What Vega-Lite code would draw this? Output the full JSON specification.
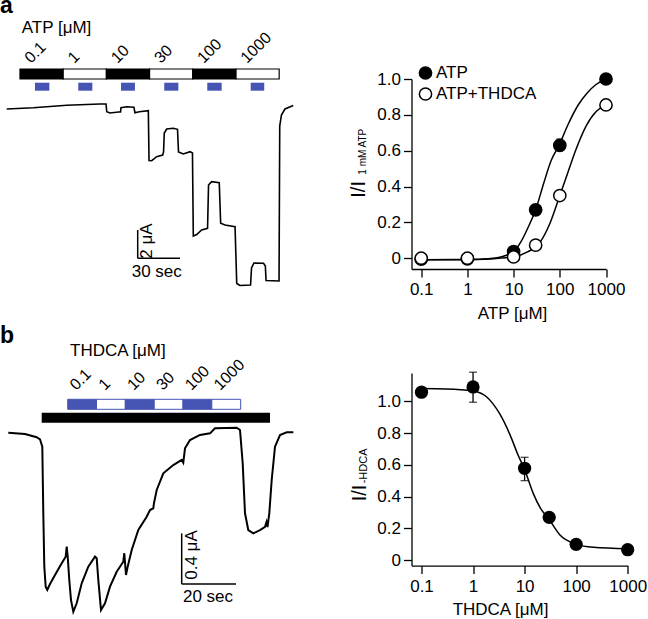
{
  "$schema": "https://vega.github.io/schema/vega-lite/v6.json",
  "padding": {"left": 0, "top": -5, "right": 0, "bottom": 0},
  "bounds": "flush",
  "spacing": 111.5,
  "resolve": {"scale": {"fill": "independent"}, "legend": {"fill": "independent"}},
  "config": {
    "view": {"stroke": null},
    "font": "Liberation Sans",
    "axis": {"grid": false, "domainColor": "black", "tickColor": "black", "labelColor": "black", "titleColor": "black", "labelFont": "Liberation Sans", "titleFont": "Liberation Sans", "labelFontSize": 17, "titleFontSize": 17, "titleFontWeight": "normal", "tickSize": 8, "domainWidth": 1.3, "tickWidth": 1.3, "labelFlush": false, "labelOverlap": false, "tickCount": 20},
    "text": {"font": "Liberation Sans", "color": "black"}
  },
  "hconcat": [
    {
      "width": 300,
      "height": 619,
      "resolve": {"scale": {"x": "independent", "y": "independent"}},
      "layer": [
        {
          "layer": [
            {
              "data": {"values": [{"t":4.75,"I":-0.353},{"t":23.6,"I":-0.261},{"t":47.3,"I":-0.092},{"t":70.9,"I":0},{"t":75.2,"I":0},{"t":75.7,"I":-0.544},{"t":78.0,"I":-0.636},{"t":83.9,"I":-0.565},{"t":85.5,"I":-0.565},{"t":85.8,"I":-0.261},{"t":89.9,"I":-0.191},{"t":95.0,"I":-0.233},{"t":95.7,"I":-0.615},{"t":98.8,"I":-0.544},{"t":105.2,"I":-0.473},{"t":105.7,"I":-3.993},{"t":107.6,"I":-4.007},{"t":111.1,"I":-3.724},{"t":115.4,"I":-3.604},{"t":116.0,"I":-3.392},{"t":116.5,"I":-2.049},{"t":118.2,"I":-1.767},{"t":122.9,"I":-1.717},{"t":125.9,"I":-1.788},{"t":126.6,"I":-3.392},{"t":130.0,"I":-3.534},{"t":134.8,"I":-3.371},{"t":136.5,"I":-3.463},{"t":137.1,"I":-9.329},{"t":139.5,"I":-9.223},{"t":143.0,"I":-8.905},{"t":147.2,"I":-8.784},{"t":147.9,"I":-5.724},{"t":150.1,"I":-5.491},{"t":155.5,"I":-5.562},{"t":156.5,"I":-8.431},{"t":159.6,"I":-8.551},{"t":166.7,"I":-8.671},{"t":167.9,"I":-12.686},{"t":170.2,"I":-12.827},{"t":177.7,"I":-12.792},{"t":178.4,"I":-11.59},{"t":180.1,"I":-11.237},{"t":186.9,"I":-11.258},{"t":188.2,"I":-11.449},{"t":188.7,"I":-12.473},{"t":197.9,"I":-12.509},{"t":198.4,"I":-1.555},{"t":199.6,"I":-0.777},{"t":202.1,"I":-0.353},{"t":208.0,"I":-0.106}]},
              "mark": {"type": "line", "color": "black", "strokeWidth": 1.6},
              "encoding": {
                "x": {"field": "t", "type": "quantitative", "scale": {"domain": [0, 212.77], "nice": false, "zero": false}, "axis": null},
                "y": {"field": "I", "type": "quantitative", "scale": {"domain": [-36.396, 7.35], "nice": false, "zero": false}, "axis": null}
              }
            },
            {
              "data": {"values": [{"conc":"0.1","start":14.18,"end":44.82,"pStart":24.8,"pEnd":35.0},{"conc":"1","start":44.82,"end":75.46,"pStart":55.5,"pEnd":65.5},{"conc":"10","start":75.46,"end":106.1,"pStart":85.8,"pEnd":95.7},{"conc":"30","start":106.1,"end":136.7,"pStart":116.5,"pEnd":126.5},{"conc":"100","start":136.7,"end":167.4,"pStart":147.0,"pEnd":157.2},{"conc":"1000","start":167.4,"end":198.0,"pStart":177.8,"pEnd":187.4}]},
              "layer": [
                {
                  "mark": {"type": "rect", "stroke": "black", "strokeWidth": 1.2},
                  "encoding": {
                    "x": {"field": "start", "type": "quantitative"},
                    "x2": {"field": "end"},
                    "y": {"datum": 2.473, "type": "quantitative"},
                    "y2": {"datum": 1.767},
                    "fill": {"condition": {"test": "indexof(['0.1','10','100'], datum.conc) >= 0", "value": "black"}, "value": "white"}
                  }
                },
                {
                  "mark": {"type": "rect", "color": "#4654b4"},
                  "encoding": {
                    "x": {"field": "pStart", "type": "quantitative"},
                    "x2": {"field": "pEnd"},
                    "y": {"datum": 1.505, "type": "quantitative"},
                    "y2": {"datum": 0.94}
                  }
                },
                {
                  "mark": {"type": "text", "angle": 315, "align": "left", "baseline": "alphabetic", "fontSize": 16, "dx": 7.8, "dy": 7.8},
                  "encoding": {
                    "x": {"field": "start", "type": "quantitative"},
                    "y": {"datum": 2.827, "type": "quantitative"},
                    "text": {"field": "conc"}
                  }
                }
              ]
            },
            {
              "data": {"values": [{}]},
              "layer": [
                {"mark": {"type": "text", "text": "a", "fontSize": 23, "fontWeight": "bold", "align": "left", "baseline": "alphabetic"},
                 "encoding": {"x": {"datum": 0, "type": "quantitative"}, "y": {"datum": 6.431, "type": "quantitative"}}},
                {"mark": {"type": "text", "text": "ATP [μM]", "fontSize": 17, "align": "left", "baseline": "alphabetic"},
                 "encoding": {"x": {"datum": 15.39, "type": "quantitative"}, "y": {"datum": 5.025, "type": "quantitative"}}},
                {"mark": {"type": "rule", "color": "black", "strokeWidth": 1.5},
                 "encoding": {"x": {"datum": 97.66, "type": "quantitative"}, "x2": {"datum": 127.66}, "y": {"datum": -10.905, "type": "quantitative"}}},
                {"mark": {"type": "rule", "color": "black", "strokeWidth": 1.5},
                 "encoding": {"x": {"datum": 97.66, "type": "quantitative"}, "y": {"datum": -8.905, "type": "quantitative"}, "y2": {"datum": -10.905}}},
                {"mark": {"type": "text", "text": "30 sec", "fontSize": 17, "align": "left", "baseline": "alphabetic"},
                 "encoding": {"x": {"datum": 93.4, "type": "quantitative"}, "y": {"datum": -12.226, "type": "quantitative"}}},
                {"mark": {"type": "text", "text": "2 μA", "fontSize": 17, "align": "center", "baseline": "alphabetic", "angle": 270},
                 "encoding": {"x": {"datum": 107.8, "type": "quantitative"}, "y": {"datum": -9.68, "type": "quantitative"}}}
              ]
            }
          ]
        },
        {
          "layer": [
            {
              "data": {"values": [{"t":3.06,"I":0},{"t":9.21,"I":-0.01},{"t":13.52,"I":-0.036},{"t":14.73,"I":-0.052},{"t":15.58,"I":-0.11},{"t":15.95,"I":-0.636},{"t":16.32,"I":-1.057},{"t":16.83,"I":-1.215},{"t":17.42,"I":-1.241},{"t":18.42,"I":-1.194},{"t":20.26,"I":-1.123},{"t":22.73,"I":-1.03},{"t":24.2,"I":-0.978},{"t":24.57,"I":-0.899},{"t":24.94,"I":-0.978},{"t":25.52,"I":-1.162},{"t":26.15,"I":-1.32},{"t":27.0,"I":-1.412},{"t":28.25,"I":-1.346},{"t":30.09,"I":-1.188},{"t":32.52,"I":-1.057},{"t":34.99,"I":-0.978},{"t":35.62,"I":-0.991},{"t":36.21,"I":-1.162},{"t":37.2,"I":-1.399},{"t":38.67,"I":-1.346},{"t":40.52,"I":-1.215},{"t":42.98,"I":-1.097},{"t":45.41,"I":-1.018},{"t":45.78,"I":-0.951},{"t":46.41,"I":-1.123},{"t":47.03,"I":-1.057},{"t":48.51,"I":-0.925},{"t":50.94,"I":-0.768},{"t":54.03,"I":-0.663},{"t":55.25,"I":-0.61},{"t":56.46,"I":-0.596},{"t":56.72,"I":-0.555},{"t":57.72,"I":-0.452},{"t":60.15,"I":-0.32},{"t":63.83,"I":-0.255},{"t":66.92,"I":-0.215},{"t":67.51,"I":-0.237},{"t":68.14,"I":-0.123},{"t":69.98,"I":-0.058},{"t":73.66,"I":-0.018},{"t":77.35,"I":-0.005},{"t":79.19,"I":0.035},{"t":87.18,"I":0.039},{"t":88.4,"I":0.021},{"t":89.39,"I":-0.241},{"t":90.24,"I":-0.636},{"t":91.45,"I":-0.768},{"t":93.3,"I":-0.794},{"t":95.76,"I":-0.768},{"t":97.61,"I":-0.742},{"t":98.16,"I":-0.705},{"t":98.53,"I":-0.744},{"t":99.19,"I":-0.636},{"t":100.07,"I":-0.373},{"t":101.29,"I":-0.11},{"t":103.13,"I":-0.018},{"t":105.6,"I":0.003},{"t":108.03,"I":0.003}]},
              "mark": {"type": "line", "color": "black", "strokeWidth": 2},
              "encoding": {
                "x": {"field": "t", "type": "quantitative", "scale": {"domain": [0, 110.497], "nice": false, "zero": false}, "axis": null},
                "y": {"field": "I", "type": "quantitative", "scale": {"domain": [-1.4698, 3.4138], "nice": false, "zero": false}, "axis": null}
              }
            },
            {
              "data": {"values": [{"conc":"0.1","start":24.94,"end":35.54},{"conc":"1","start":35.54,"end":46.15},{"conc":"10","start":46.15,"end":56.8},{"conc":"30","start":56.8,"end":67.4},{"conc":"100","start":67.4,"end":78.01},{"conc":"1000","start":78.01,"end":88.65}]},
              "layer": [
                {
                  "mark": {"type": "rect", "stroke": "#4654b4", "strokeWidth": 1},
                  "encoding": {
                    "x": {"field": "start", "type": "quantitative"},
                    "x2": {"field": "end"},
                    "y": {"datum": 0.2635, "type": "quantitative"},
                    "y2": {"datum": 0.1846},
                    "fill": {"condition": {"test": "indexof(['0.1','10','100'], datum.conc) >= 0", "value": "#4654b4"}, "value": "white"}
                  }
                },
                {
                  "mark": {"type": "text", "angle": 315, "align": "left", "baseline": "alphabetic", "fontSize": 16, "dx": 6, "dy": 6},
                  "encoding": {
                    "x": {"field": "start", "type": "quantitative"},
                    "y": {"datum": 0.329, "type": "quantitative"},
                    "text": {"field": "conc"}
                  }
                }
              ]
            },
            {
              "data": {"values": [{}]},
              "layer": [
                {"mark": {"type": "rect", "color": "black"},
                 "encoding": {"x": {"datum": 15.36, "type": "quantitative"}, "x2": {"datum": 99.45}, "y": {"datum": 0.158, "type": "quantitative"}, "y2": {"datum": 0.0789}}},
                {"mark": {"type": "text", "text": "b", "fontSize": 23, "fontWeight": "bold", "align": "left", "baseline": "alphabetic"},
                 "encoding": {"x": {"datum": 0, "type": "quantitative"}, "y": {"datum": 0.7077, "type": "quantitative"}}},
                {"mark": {"type": "text", "text": "THDCA [μM]", "fontSize": 17, "align": "left", "baseline": "alphabetic"},
                 "encoding": {"x": {"datum": 25.78, "type": "quantitative"}, "y": {"datum": 0.605, "type": "quantitative"}}},
                {"mark": {"type": "rule", "color": "black", "strokeWidth": 1.5},
                 "encoding": {"x": {"datum": 66.92, "type": "quantitative"}, "x2": {"datum": 86.92}, "y": {"datum": -1.194, "type": "quantitative"}}},
                {"mark": {"type": "rule", "color": "black", "strokeWidth": 1.5},
                 "encoding": {"x": {"datum": 66.92, "type": "quantitative"}, "y": {"datum": -0.794, "type": "quantitative"}, "y2": {"datum": -1.194}}},
                {"mark": {"type": "text", "text": "20 sec", "fontSize": 17, "align": "left", "baseline": "alphabetic"},
                 "encoding": {"x": {"datum": 67.4, "type": "quantitative"}, "y": {"datum": -1.336, "type": "quantitative"}}},
                {"mark": {"type": "text", "text": "0.4 μA", "fontSize": 17, "align": "center", "baseline": "alphabetic", "angle": 270},
                 "encoding": {"x": {"datum": 72.63, "type": "quantitative"}, "y": {"datum": -0.965, "type": "quantitative"}}}
              ]
            }
          ]
        }
      ]
    },
    {
      "bounds": "flush",
      "spacing": 0,
      "resolve": {"scale": {"fill": "independent"}, "legend": {"fill": "independent"}},
      "vconcat": [
        {"width": 10, "height": 78.3, "data": {"values": []}, "mark": "point"},
        {
          "width": 194.5,
          "height": 190,
          "layer": [
            {
              "data": {"values": [{"series":"ATP","conc":0.1,"r":-0.009},{"series":"ATP","conc":0.3,"r":-0.009},{"series":"ATP","conc":1,"r":-0.008},{"series":"ATP","conc":2,"r":-0.005},{"series":"ATP","conc":3.5,"r":0.0},{"series":"ATP","conc":5,"r":0.006},{"series":"ATP","conc":7,"r":0.017},{"series":"ATP","conc":10,"r":0.037},{"series":"ATP","conc":15,"r":0.1},{"series":"ATP","conc":20,"r":0.165},{"series":"ATP","conc":30,"r":0.27},{"series":"ATP","conc":45,"r":0.42},{"series":"ATP","conc":65,"r":0.545},{"series":"ATP","conc":100,"r":0.64},{"series":"ATP","conc":150,"r":0.745},{"series":"ATP","conc":250,"r":0.855},{"series":"ATP","conc":400,"r":0.925},{"series":"ATP","conc":600,"r":0.968},{"series":"ATP","conc":1000,"r":1.0},{"series":"ATP+THDCA","conc":0.1,"r":-0.008},{"series":"ATP+THDCA","conc":1,"r":-0.007},{"series":"ATP+THDCA","conc":3,"r":-0.004},{"series":"ATP+THDCA","conc":10,"r":0.008},{"series":"ATP+THDCA","conc":20,"r":0.035},{"series":"ATP+THDCA","conc":37,"r":0.088},{"series":"ATP+THDCA","conc":60,"r":0.19},{"series":"ATP+THDCA","conc":100,"r":0.35},{"series":"ATP+THDCA","conc":137,"r":0.45},{"series":"ATP+THDCA","conc":226,"r":0.61},{"series":"ATP+THDCA","conc":375,"r":0.74},{"series":"ATP+THDCA","conc":620,"r":0.82},{"series":"ATP+THDCA","conc":1000,"r":0.855}]},
              "mark": {"type": "line", "interpolate": "monotone", "color": "black", "strokeWidth": 1.5},
              "encoding": {
                "x": {"field": "conc", "type": "quantitative", "scale": {"type": "log", "domain": [0.0616, 1000], "nice": false},
                      "axis": {"values": [0.1, 1, 10, 100, 1000], "format": "~g", "title": "ATP [μM]", "titleX": 100.5, "titleY": 49.7, "titleBaseline": "alphabetic", "titleAlign": "center", "labelPadding": 4.5, "labelOverlap": false, "tickCount": 20}},
                "y": {"field": "r", "type": "quantitative", "scale": {"domain": [-0.06, 1.0], "nice": false, "zero": false},
                      "axis": {"values": [0, 0.2, 0.4, 0.6, 0.8, 1.0], "tickCount": 20, "labelExpr": "datum.value == 0 ? '0' : format(datum.value, '.1f')", "title": null, "labelPadding": 3, "labelOverlap": false, "labelBound": false}},
                "detail": {"field": "series"}
              }
            },
            {
              "data": {"values": [{"conc":100,"lo":0.6,"hi":0.665}]},
              "layer": [
                {"mark": {"type": "rule", "color": "black", "strokeWidth": 1.3},
                 "encoding": {"x": {"field": "conc", "type": "quantitative"}, "y": {"field": "lo", "type": "quantitative"}, "y2": {"field": "hi"}}},
                {"mark": {"type": "tick", "orient": "horizontal", "color": "black", "size": 7, "thickness": 1.3},
                 "encoding": {"x": {"field": "conc", "type": "quantitative"}, "y": {"field": "lo", "type": "quantitative"}}},
                {"mark": {"type": "tick", "orient": "horizontal", "color": "black", "size": 7, "thickness": 1.3},
                 "encoding": {"x": {"field": "conc", "type": "quantitative"}, "y": {"field": "hi", "type": "quantitative"}}}
              ]
            },
            {
              "data": {"values": [{"series":"ATP","conc":0.1,"r":-0.005},{"series":"ATP","conc":1,"r":-0.003},{"series":"ATP","conc":10,"r":0.037},{"series":"ATP","conc":30,"r":0.27},{"series":"ATP","conc":100,"r":0.63},{"series":"ATP","conc":1000,"r":1.0},{"series":"ATP+THDCA","conc":0.1,"r":0.0},{"series":"ATP+THDCA","conc":1,"r":0.0},{"series":"ATP+THDCA","conc":10,"r":0.007},{"series":"ATP+THDCA","conc":30,"r":0.073},{"series":"ATP+THDCA","conc":100,"r":0.35},{"series":"ATP+THDCA","conc":1000,"r":0.855}]},
              "mark": {"type": "point", "shape": "circle", "filled": true, "stroke": "black", "strokeWidth": 1.5, "size": 150, "opacity": 1},
              "encoding": {
                "x": {"field": "conc", "type": "quantitative"},
                "y": {"field": "r", "type": "quantitative"},
                "fill": {"field": "series", "type": "nominal", "scale": {"domain": ["ATP", "ATP+THDCA"], "range": ["black", "white"]},
                         "legend": {"orient": "none", "legendX": 5.5, "legendY": -14.5, "title": null, "labelFontSize": 17, "labelFont": "Liberation Sans", "labelColor": "black", "symbolSize": 150, "symbolType": "circle", "symbolStrokeColor": "black", "symbolStrokeWidth": 1.5, "symbolOpacity": 1, "rowPadding": 2, "labelOffset": 2, "padding": 0}}
              }
            },
            {
              "data": {"values": [{}]},
              "layer": [
                {"mark": {"type": "text", "text": "I/I", "fontSize": 20, "align": "left", "baseline": "alphabetic", "angle": 270},
                 "encoding": {"x": {"datum": 0.006067, "type": "quantitative"}, "y": {"datum": 0.3378, "type": "quantitative"}}},
                {"mark": {"type": "text", "text": "1 mM ATP", "fontSize": 10, "align": "left", "baseline": "alphabetic", "angle": 270},
                 "encoding": {"x": {"datum": 0.006374, "type": "quantitative"}, "y": {"datum": 0.4661, "type": "quantitative"}}}
              ]
            }
          ]
        },
        {"width": 10, "height": 103.4, "data": {"values": []}, "mark": "point"},
        {
          "width": 216.2,
          "height": 192.6,
          "layer": [
            {
              "data": {"values": [{"conc":0.1,"r":1.08},{"conc":0.3,"r":1.078},{"conc":1,"r":1.065},{"conc":1.8,"r":1.03},{"conc":3.3,"r":0.92},{"conc":5.2,"r":0.79},{"conc":7.5,"r":0.66},{"conc":10,"r":0.57},{"conc":14.7,"r":0.42},{"conc":20,"r":0.33},{"conc":30,"r":0.255},{"conc":48,"r":0.16},{"conc":100,"r":0.1},{"conc":215,"r":0.08},{"conc":1000,"r":0.071}]},
              "mark": {"type": "line", "interpolate": "monotone", "color": "black", "strokeWidth": 1.5},
              "encoding": {
                "x": {"field": "conc", "type": "quantitative", "scale": {"type": "log", "domain": [0.064, 1000], "nice": false},
                      "axis": {"values": [0.1, 1, 10, 100, 1000], "format": "~g", "title": "THDCA [μM]", "titleX": 88.5, "titleY": 48.7, "titleBaseline": "alphabetic", "titleAlign": "center", "labelPadding": 4.5, "labelOverlap": false, "tickCount": 20}},
                "y": {"field": "r", "type": "quantitative", "scale": {"domain": [-0.035, 1.178], "nice": false, "zero": false},
                      "axis": {"values": [0, 0.2, 0.4, 0.6, 0.8, 1.0], "tickCount": 20, "labelExpr": "datum.value == 0 ? '0' : format(datum.value, '.1f')", "title": null, "labelPadding": 3, "labelOverlap": false, "labelBound": false}}
              }
            },
            {
              "data": {"values": [{"conc":1,"lo":0.994,"hi":1.183},{"conc":10,"lo":0.5,"hi":0.647}]},
              "layer": [
                {"mark": {"type": "rule", "color": "black", "strokeWidth": 1.3},
                 "encoding": {"x": {"field": "conc", "type": "quantitative"}, "y": {"field": "lo", "type": "quantitative"}, "y2": {"field": "hi"}}},
                {"mark": {"type": "tick", "orient": "horizontal", "color": "black", "size": 8, "thickness": 1.3},
                 "encoding": {"x": {"field": "conc", "type": "quantitative"}, "y": {"field": "lo", "type": "quantitative"}}},
                {"mark": {"type": "tick", "orient": "horizontal", "color": "black", "size": 8, "thickness": 1.3},
                 "encoding": {"x": {"field": "conc", "type": "quantitative"}, "y": {"field": "hi", "type": "quantitative"}}}
              ]
            },
            {
              "data": {"values": [{"conc":0.1,"r":1.057},{"conc":1,"r":1.09},{"conc":10,"r":0.578},{"conc":30,"r":0.269},{"conc":100,"r":0.099},{"conc":1000,"r":0.065}]},
              "mark": {"type": "point", "shape": "circle", "filled": true, "color": "black", "size": 175, "opacity": 1},
              "encoding": {
                "x": {"field": "conc", "type": "quantitative"},
                "y": {"field": "r", "type": "quantitative"}
              }
            },
            {
              "data": {"values": [{}]},
              "layer": [
                {"mark": {"type": "text", "text": "I/I", "fontSize": 20, "align": "left", "baseline": "alphabetic", "angle": 270},
                 "encoding": {"x": {"datum": 0.008573, "type": "quantitative"}, "y": {"datum": 0.37, "type": "quantitative"}}},
                {"mark": {"type": "text", "text": "-HDCA", "fontSize": 11, "align": "left", "baseline": "alphabetic", "angle": 270},
                 "encoding": {"x": {"datum": 0.008767, "type": "quantitative"}, "y": {"datum": 0.4833, "type": "quantitative"}}}
              ]
            }
          ]
        }
      ]
    }
  ]
}
